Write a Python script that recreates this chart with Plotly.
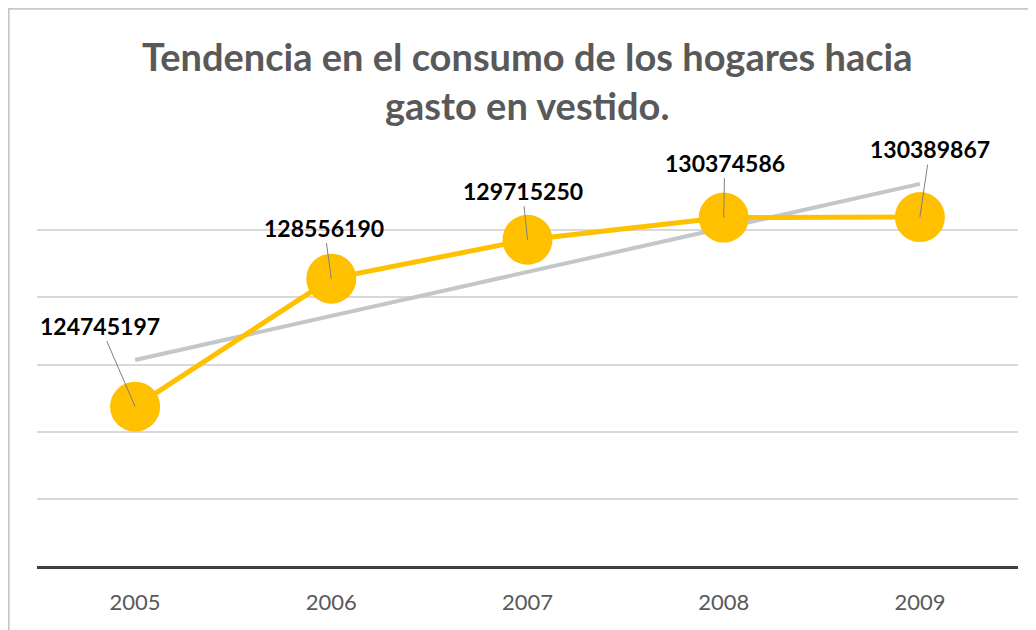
import numpy as np
import plotly.graph_objects as go

# datos
anios = ["2005", "2006", "2007", "2008", "2009"]
gasto = [124745197, 128556190, 129715250, 130374586, 130389867]

# posicion de las etiquetas respecto al punto (px)
lab_ax = [-35, -7, -5, 1, 10]
lab_ay = [-81, -51, -49, -55, -68]

xi = np.arange(len(anios))
pend, corte = np.polyfit(xi, gasto, 1)
tendencia = pend * xi + corte

fuente = "Lato, Carlito, sans-serif"

fig = go.Figure()

# linea de tendencia (lineal)
fig.add_trace(go.Scatter(
    x=xi, y=tendencia, mode="lines",
    line=dict(color="#c3c6ca", width=4),
    hoverinfo="skip", showlegend=False,
))

fig.add_trace(go.Scatter(
    x=xi, y=gasto, mode="lines+markers",
    line=dict(color="#ffc000", width=5),
    marker=dict(size=50, color="#ffc000"),
    cliponaxis=False, showlegend=False,
))

for i, v in enumerate(gasto):
    fig.add_annotation(
        x=xi[i], y=v, text="<b>%d</b>" % v,
        showarrow=True, arrowhead=0, arrowwidth=1, arrowcolor="#7f7f7f",
        ax=lab_ax[i], ay=lab_ay[i], standoff=0,
        font=dict(family=fuente, size=23, color="#000000"),
    )

# titulo
fig.add_annotation(
    text="<b>Tendencia en el consumo de los hogares hacia<br>gasto en vestido.</b>",
    xref="paper", yref="paper", x=0.5, y=1.2035,
    xanchor="center", yanchor="middle", showarrow=False,
    font=dict(family=fuente, size=38, color="#595959"),
)

# borde del area del grafico
fig.add_shape(type="line", xref="paper", yref="paper",
              x0=-0.0291, x1=-0.0291, y0=-0.3, y1=1.39,
              line=dict(color="#c8c8c8", width=2.5))
fig.add_shape(type="line", xref="paper", yref="paper",
              x0=-0.0316, x1=1.1, y0=1.3834, y1=1.3834,
              line=dict(color="#c8c8c8", width=2.5))

fig.update_layout(
    width=1036, height=630,
    margin=dict(l=29, r=26, t=155, b=72),
    paper_bgcolor="white", plot_bgcolor="white",
    xaxis=dict(
        tickmode="array", tickvals=xi, ticktext=anios,
        range=[-0.5, 4.5], showgrid=False, zeroline=False,
        showline=True, linecolor="#404040", linewidth=3,
        ticks="", ticklabelstandoff=15,
        tickfont=dict(family=fuente, size=22, color="#595959"),
    ),
    yaxis=dict(
        range=[120000000, 132000000], dtick=2000000,
        showgrid=True, gridcolor="#d9d9d9", gridwidth=2,
        showticklabels=False, zeroline=False, showline=False,
    ),
)

fig.write_html("out.html")
